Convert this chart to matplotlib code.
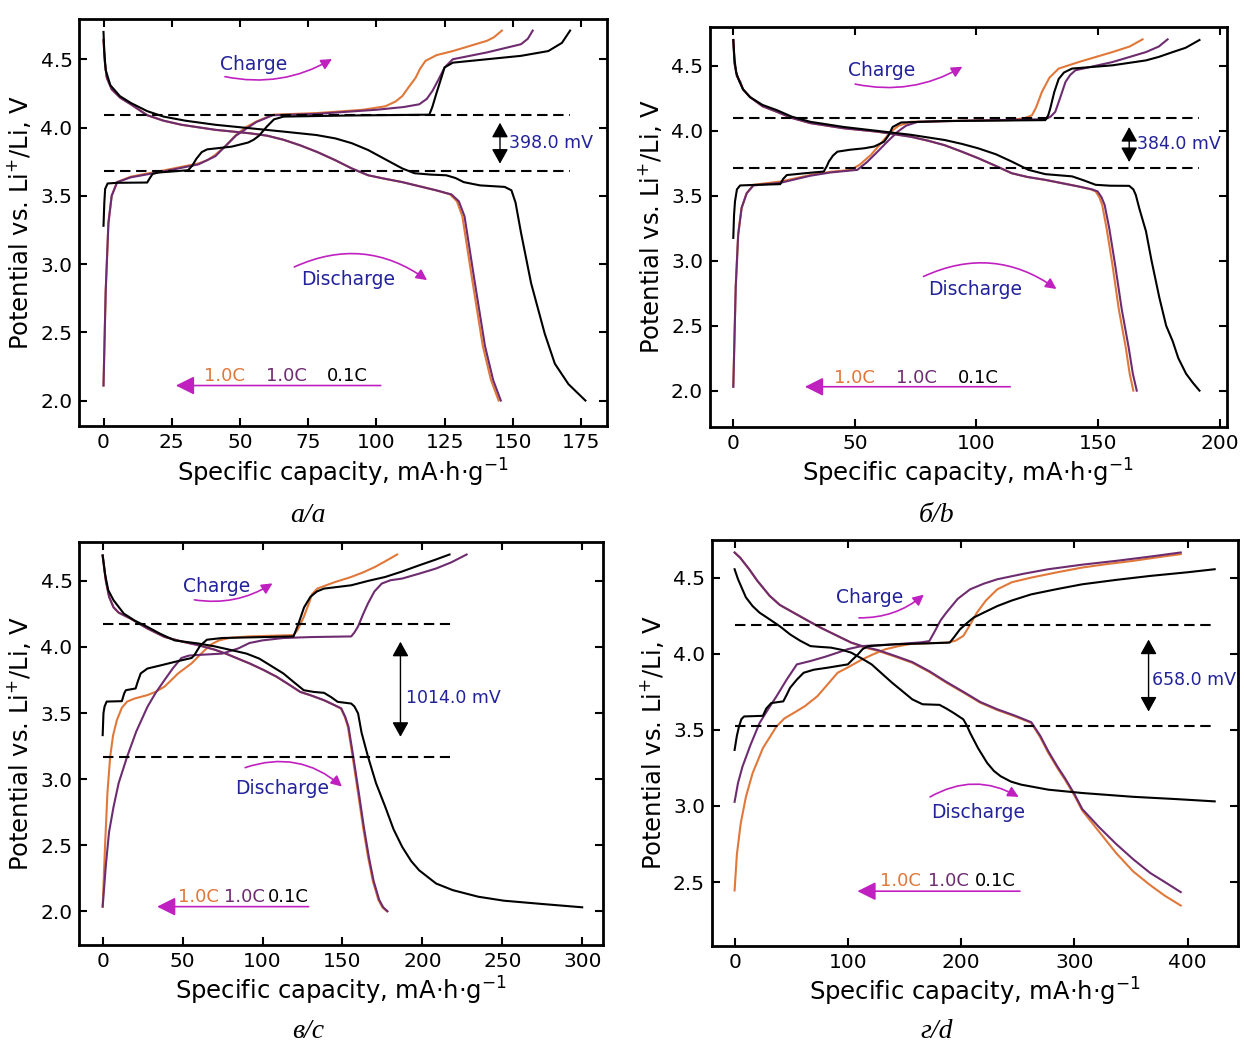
import matplotlib.pyplot as plt

# colours of the three curves
ORANGE = '#e0783a'
PURPLE = '#6e2c70'
BLACK = 'k'
MAGENTA = '#c020c0'
BLUE = '#22229a'

# ---------------- panel a ----------------
a_dis_k_x = [0, 0.3, 0.8, 2.5, 6, 10, 16, 22, 30, 41, 53.5, 66, 78, 85, 91, 97, 103, 109.5, 114, 120, 125.6, 129, 132, 138, 147, 149.5, 151, 153, 156.7, 161.7, 165.4, 170.4, 176.6]
a_dis_k_y = [4.70, 4.55, 4.42, 4.31, 4.23, 4.18, 4.12, 4.08, 4.05, 4.02, 3.995, 3.97, 3.945, 3.92, 3.885, 3.835, 3.77, 3.70, 3.665, 3.655, 3.65, 3.63, 3.60, 3.576, 3.565, 3.54, 3.45, 3.23, 2.86, 2.49, 2.27, 2.12, 2.0]
a_dis_o_x = [0, 0.5, 1.2, 3, 6.2, 10, 16, 22, 28.6, 41, 53.5, 60, 66, 72, 78.4, 85, 91, 97, 103, 109.5, 121.9, 127, 129.5, 131.5, 135, 139, 142, 144.8]
a_dis_o_y = [4.64, 4.48, 4.365, 4.28, 4.217, 4.17, 4.09, 4.05, 4.02, 3.983, 3.958, 3.94, 3.91, 3.87, 3.82, 3.76, 3.70, 3.65, 3.625, 3.60, 3.54, 3.51, 3.46, 3.35, 2.90, 2.40, 2.15, 2.0]
a_dis_p_x = [0, 0.5, 1.2, 3, 6.2, 10, 16, 22, 28.6, 41, 53.5, 60, 66, 72, 78.4, 85, 91, 97, 103, 109.5, 121.9, 127.5, 130.2, 132.3, 135.8, 139.8, 142.8, 145.6]
a_dis_p_y = [4.64, 4.48, 4.365, 4.28, 4.217, 4.17, 4.09, 4.05, 4.02, 3.983, 3.958, 3.94, 3.91, 3.87, 3.82, 3.76, 3.70, 3.65, 3.625, 3.60, 3.54, 3.51, 3.46, 3.35, 2.90, 2.40, 2.15, 2.0]
a_ch_k_x = [0, 0.3, 0.6, 1.5, 5, 16, 17, 18, 20, 31, 32.5, 34, 36, 38, 47, 53, 55, 57, 60, 62.5, 66, 90, 119.4, 120.5, 122, 125, 128, 140.5, 153, 163, 168, 171]
a_ch_k_y = [3.28, 3.45, 3.55, 3.59, 3.595, 3.597, 3.63, 3.66, 3.67, 3.687, 3.72, 3.77, 3.82, 3.84, 3.86, 3.89, 3.91, 3.94, 4.01, 4.06, 4.08, 4.088, 4.094, 4.15, 4.25, 4.44, 4.475, 4.5, 4.525, 4.56, 4.62, 4.71]
a_ch_o_x = [0, 0.8, 1.8, 3, 5, 10, 22.4, 34.8, 38, 41, 45, 48.5, 52, 56, 62.2, 78.4, 95, 103.2, 107, 109.5, 112, 114.4, 116, 118, 122, 128, 140.5, 143, 146]
a_ch_o_y = [2.11, 2.8, 3.3, 3.5, 3.60, 3.64, 3.687, 3.737, 3.76, 3.80, 3.87, 3.945, 4.0, 4.044, 4.094, 4.106, 4.13, 4.155, 4.19, 4.23, 4.30, 4.365, 4.43, 4.488, 4.53, 4.56, 4.635, 4.66, 4.71]
a_ch_p_x = [0, 0.8, 1.8, 3, 5, 10, 22.4, 34.8, 41, 48.5, 56, 62, 78, 100, 110, 115.7, 118.5, 120.6, 123, 125, 128, 140.5, 153, 155.5, 157.3]
a_ch_p_y = [2.11, 2.8, 3.3, 3.5, 3.60, 3.635, 3.68, 3.73, 3.79, 3.94, 4.04, 4.09, 4.10, 4.13, 4.15, 4.17, 4.21, 4.27, 4.36, 4.44, 4.5, 4.55, 4.61, 4.65, 4.71]

# ---------------- panel b ----------------
b_dis_k_x = [0, 0.5, 1.2, 2.5, 4, 6.9, 12, 17.9, 24, 31.7, 45.5, 59.3, 73, 86.9, 94, 100.7, 108, 114.5, 121.4, 128.3, 139.3, 144, 149, 155, 162.8, 164.5, 165.5, 167, 169.7, 172, 175.2, 178, 180.7, 183, 186.2, 189, 191.7]
b_dis_k_y = [4.70, 4.55, 4.45, 4.38, 4.32, 4.26, 4.20, 4.16, 4.11, 4.07, 4.03, 4.0, 3.97, 3.93, 3.90, 3.866, 3.82, 3.764, 3.70, 3.667, 3.65, 3.62, 3.585, 3.578, 3.577, 3.55, 3.508, 3.40, 3.227, 3.0, 2.716, 2.50, 2.38, 2.25, 2.13, 2.06, 2.0]
b_dis_o_x = [0, 0.5, 1.5, 2.8, 4, 6.9, 12, 17.9, 24, 31.7, 45.5, 59.3, 73, 80, 86.9, 94, 100.7, 108, 114.5, 121, 128.3, 142, 147, 149, 150.5, 151.7, 153.5, 155.9, 158.5, 161.4, 163, 164.5]
b_dis_o_y = [4.70, 4.52, 4.42, 4.38, 4.32, 4.26, 4.19, 4.147, 4.10, 4.06, 4.02, 3.994, 3.955, 3.925, 3.89, 3.84, 3.79, 3.73, 3.674, 3.645, 3.623, 3.572, 3.55, 3.534, 3.49, 3.43, 3.25, 2.97, 2.63, 2.33, 2.13, 2.0]
b_dis_p_x = [0, 0.5, 1.5, 2.8, 4, 6.9, 12, 17.9, 24, 31.7, 45.5, 59.3, 73, 80, 86.9, 94, 100.7, 108, 114.5, 121, 128.3, 142, 147.5, 149.8, 151.4, 152.7, 154.6, 157, 159.7, 162.6, 164.3, 165.9]
b_dis_p_y = b_dis_o_y
b_ch_k_x = [0, 0.3, 0.7, 1.5, 2.8, 10, 19.3, 20.5, 22, 30, 37.2, 38.5, 39.3, 41, 42.8, 48, 53.8, 58, 62, 64, 65.5, 69, 87, 128.3, 129.5, 130.3, 132, 133.8, 136, 139.3, 155.9, 169.7, 175, 180.7, 186, 191.7]
b_ch_k_y = [3.176, 3.35, 3.457, 3.55, 3.58, 3.585, 3.59, 3.63, 3.66, 3.675, 3.687, 3.73, 3.764, 3.81, 3.84, 3.855, 3.866, 3.88, 3.917, 3.97, 4.03, 4.065, 4.076, 4.083, 4.12, 4.17, 4.30, 4.40, 4.45, 4.48, 4.505, 4.543, 4.57, 4.607, 4.64, 4.70]
b_ch_o_x = [0, 1, 2, 3.4, 5.5, 8.3, 19.3, 31.7, 40, 48.3, 52, 56.6, 60.5, 64.8, 68, 73, 100, 114.5, 120, 122.8, 124.5, 126.9, 130, 133.8, 142, 155.9, 163, 168.3]
b_ch_o_y = [2.03, 2.8, 3.2, 3.406, 3.52, 3.585, 3.61, 3.66, 3.685, 3.70, 3.74, 3.815, 3.90, 3.994, 4.04, 4.07, 4.08, 4.083, 4.10, 4.12, 4.18, 4.30, 4.41, 4.48, 4.53, 4.607, 4.65, 4.705]
b_ch_p_x = [0, 1, 2, 3.4, 5.5, 8.3, 19.3, 31.7, 40, 51, 55, 59.3, 63.5, 67.6, 71, 75.9, 100, 128.3, 130.5, 132.4, 134.5, 136.6, 138.5, 140.7, 155.9, 169.7, 175, 178.6]
b_ch_p_y = [2.03, 2.8, 3.2, 3.406, 3.52, 3.58, 3.60, 3.655, 3.68, 3.70, 3.76, 3.84, 3.92, 3.994, 4.04, 4.07, 4.08, 4.09, 4.11, 4.147, 4.26, 4.377, 4.43, 4.467, 4.53, 4.607, 4.65, 4.705]

# ---------------- panel c ----------------
c_dis_k_x = [0, 1.5, 3.5, 6.8, 13.2, 20, 28, 36, 45, 60, 70, 81, 90, 98, 105, 113, 120, 125.8, 132, 138.5, 143, 147, 155.5, 157.5, 159.8, 162, 166, 171, 176.8, 182, 187.4, 193, 198, 208.6, 219, 235, 251, 275, 300]
c_dis_k_y = [4.694, 4.55, 4.43, 4.354, 4.253, 4.20, 4.152, 4.10, 4.05, 4.026, 4.005, 3.975, 3.95, 3.912, 3.86, 3.80, 3.73, 3.673, 3.66, 3.653, 3.62, 3.585, 3.572, 3.55, 3.497, 3.35, 3.17, 2.97, 2.79, 2.62, 2.487, 2.38, 2.31, 2.21, 2.16, 2.11, 2.08, 2.055, 2.03]
c_dis_o_x = [0, 2, 4, 6.8, 10, 17.4, 28, 38.7, 50, 60, 70, 77, 85, 91.8, 100, 108.8, 116, 123.6, 130, 138.5, 145, 149, 151.5, 153.4, 156, 159.8, 163, 166, 169, 172.5, 175, 177.8]
c_dis_o_y = [4.69, 4.50, 4.38, 4.30, 4.26, 4.215, 4.14, 4.076, 4.04, 4.013, 3.98, 3.95, 3.91, 3.876, 3.83, 3.775, 3.72, 3.66, 3.635, 3.597, 3.56, 3.535, 3.47, 3.396, 3.20, 2.892, 2.63, 2.413, 2.23, 2.086, 2.03, 2.0]
c_dis_p_x = [0, 2, 4, 6.8, 10, 17.4, 28, 38.7, 50, 60, 70, 77, 85, 91.8, 100, 108.8, 116, 123.6, 130, 138.5, 145, 149.3, 151.8, 153.8, 156.4, 160.3, 163.5, 166.5, 169.5, 173, 175.5, 178.2]
c_dis_p_y = c_dis_o_y
c_ch_k_x = [0, 0.5, 1.2, 2.5, 12, 13.5, 14.5, 20.6, 22, 23.8, 28, 36, 45, 55.7, 57.5, 58.8, 61, 65.2, 74.8, 100, 119.4, 121, 122.6, 126, 130, 134, 138.5, 155.5, 166, 176.8, 187, 198, 208, 217]
c_ch_k_y = [3.333, 3.50, 3.55, 3.587, 3.59, 3.65, 3.673, 3.686, 3.74, 3.80, 3.837, 3.86, 3.887, 3.917, 3.94, 3.967, 4.01, 4.055, 4.068, 4.075, 4.08, 4.13, 4.18, 4.30, 4.38, 4.42, 4.442, 4.467, 4.50, 4.53, 4.57, 4.618, 4.66, 4.70]
c_ch_o_x = [0, 1.5, 3, 4.7, 6.5, 8.9, 12, 15.3, 20, 28, 33, 38.7, 43, 47.2, 55.7, 60, 64.2, 68, 72.7, 80, 91.8, 119.4, 122, 125.8, 129, 131, 134.3, 145, 155.5, 163, 170.4, 177, 184.2]
c_ch_o_y = [2.035, 2.5, 2.9, 3.17, 3.33, 3.447, 3.54, 3.587, 3.61, 3.636, 3.66, 3.70, 3.75, 3.80, 3.877, 3.93, 3.98, 4.02, 4.05, 4.07, 4.08, 4.09, 4.13, 4.227, 4.33, 4.40, 4.442, 4.49, 4.53, 4.565, 4.606, 4.65, 4.70]
c_ch_p_x = [0, 2, 4, 6.8, 10, 15.3, 21, 28, 33, 38.7, 44, 49.3, 54, 60, 74.8, 85, 91.8, 100, 113, 130, 155.5, 157.5, 159.8, 163, 166, 170, 174.6, 180, 187.4, 198, 208.6, 218, 227.7]
c_ch_p_y = [2.035, 2.35, 2.6, 2.79, 2.97, 3.17, 3.36, 3.547, 3.65, 3.75, 3.84, 3.917, 3.935, 3.94, 3.95, 3.99, 4.03, 4.05, 4.068, 4.075, 4.08, 4.11, 4.156, 4.25, 4.33, 4.42, 4.48, 4.505, 4.518, 4.555, 4.594, 4.64, 4.70]

# ---------------- panel d ----------------
d_dis_k_x = [0, 3, 6.9, 10, 15.9, 22, 30.9, 40, 49, 58, 67, 75, 85, 95, 103, 112, 121, 130, 139, 148, 157, 166, 181, 187, 193, 202, 205, 208, 215, 223, 229, 235, 244, 253, 277, 307, 352, 390, 424]
d_dis_k_y = [4.555, 4.49, 4.423, 4.37, 4.313, 4.27, 4.226, 4.18, 4.127, 4.085, 4.05, 4.045, 4.04, 4.025, 4.007, 3.97, 3.93, 3.87, 3.81, 3.755, 3.70, 3.668, 3.664, 3.64, 3.613, 3.569, 3.53, 3.48, 3.38, 3.283, 3.23, 3.195, 3.16, 3.14, 3.107, 3.085, 3.06, 3.045, 3.03]
d_dis_o_x = [0, 5, 12.9, 20, 31, 40, 52, 64, 76, 90, 103, 115, 127, 142, 157, 172, 187, 202, 217, 232, 247, 262, 270, 277, 285, 292, 300, 307, 322, 337, 352, 367, 380, 394]
d_dis_o_y = [4.665, 4.63, 4.555, 4.48, 4.38, 4.32, 4.27, 4.22, 4.171, 4.12, 4.073, 4.04, 4.018, 3.98, 3.94, 3.88, 3.81, 3.745, 3.678, 3.63, 3.59, 3.546, 3.45, 3.349, 3.25, 3.17, 3.07, 2.97, 2.83, 2.69, 2.57, 2.48, 2.41, 2.346]
d_dis_p_x = [0, 5, 12.9, 20, 31, 40, 52, 64, 76, 90, 103, 115, 127, 142, 157, 172, 187, 202, 217, 232, 247, 262, 270, 277, 285, 292, 300, 307, 322, 337, 352, 367, 380, 394]
d_dis_p_y = [4.665, 4.63, 4.555, 4.48, 4.38, 4.32, 4.27, 4.22, 4.171, 4.12, 4.073, 4.045, 4.023, 3.985, 3.945, 3.885, 3.815, 3.75, 3.683, 3.635, 3.595, 3.55, 3.46, 3.36, 3.26, 3.18, 3.08, 2.98, 2.86, 2.75, 2.65, 2.56, 2.50, 2.434]
d_ch_k_x = [0, 2, 3.9, 6, 8.4, 25, 28, 32.4, 43, 46, 49, 55, 61, 70, 82, 100, 104, 109, 113, 118, 142, 170, 190, 194, 199, 205, 211, 220, 232, 245, 262, 285, 307, 337, 367, 400, 424]
d_ch_k_y = [3.368, 3.46, 3.522, 3.57, 3.588, 3.592, 3.64, 3.676, 3.687, 3.73, 3.776, 3.83, 3.875, 3.895, 3.908, 3.93, 3.96, 3.996, 4.03, 4.05, 4.062, 4.068, 4.073, 4.11, 4.16, 4.20, 4.237, 4.27, 4.313, 4.35, 4.39, 4.425, 4.456, 4.485, 4.511, 4.535, 4.555]
d_ch_p_x = [0, 3, 6.9, 14, 22, 30, 37, 46, 55, 67, 80, 91, 100, 112, 142, 165, 172, 177, 182, 187, 197, 208, 220, 232, 255, 277, 307, 337, 367, 394]
d_ch_p_y = [3.027, 3.15, 3.257, 3.40, 3.544, 3.64, 3.72, 3.83, 3.93, 3.952, 3.98, 4.007, 4.03, 4.05, 4.062, 4.075, 4.083, 4.15, 4.22, 4.27, 4.36, 4.423, 4.46, 4.489, 4.525, 4.555, 4.585, 4.61, 4.638, 4.665]
d_ch_o_x = [0, 2, 5.4, 10, 15.9, 25, 37, 44, 52, 62, 73, 80, 91, 100, 112, 122, 133, 145, 157, 187, 195, 202, 208, 214, 222, 232, 245, 262, 285, 307, 330, 352, 375, 394]
d_ch_o_y = [2.445, 2.68, 2.885, 3.06, 3.215, 3.38, 3.522, 3.575, 3.61, 3.655, 3.72, 3.78, 3.875, 3.91, 3.96, 3.995, 4.029, 4.05, 4.066, 4.073, 4.085, 4.117, 4.19, 4.27, 4.35, 4.423, 4.47, 4.5, 4.535, 4.566, 4.59, 4.61, 4.635, 4.654]

rate_labels = ['1.0C', '1.0C', '0.1C']

plt.rcParams['font.family'] = 'DejaVu Sans'
fig = plt.figure(figsize=(12.44, 10.43), dpi=100)

ax_a = fig.add_axes([0.0639, 0.5911, 0.4240, 0.3907])
ax_b = fig.add_axes([0.5707, 0.5906, 0.4156, 0.3835])
ax_c = fig.add_axes([0.0639, 0.0940, 0.4208, 0.3864])
ax_d = fig.add_axes([0.5723, 0.0930, 0.4228, 0.3897])


def curves(ax, ch_o, ch_p, ch_k, dis_o, dis_p, dis_k):
    for (x, y), c in [(ch_o, ORANGE), (dis_o, ORANGE), (ch_p, PURPLE), (dis_p, PURPLE),
                      (ch_k, BLACK), (dis_k, BLACK)]:
        ax.plot(x, y, color=c, lw=1.5)


def decorate(ax, xmax_dash, v_hi, v_lo, dbl_x, dbl_y, gap_txt, txt_x, txt_y,
             ch_txt, ch_a, ch_b, dis_txt, dis_a, dis_b, leg_x, leg_y, arr_y, arr_a, arr_b, fs_leg=13):
    ax.plot([0, xmax_dash], [v_hi, v_hi], 'k--', lw=1.5, dashes=(5, 2.7))
    ax.plot([0, xmax_dash], [v_lo, v_lo], 'k--', lw=1.5, dashes=(5, 2.7))
    ax.annotate('', xy=(dbl_x, dbl_y[0]), xytext=(dbl_x, dbl_y[1]),
                arrowprops=dict(arrowstyle='<|-|>,head_length=0.45,head_width=0.25',
                                color='k', lw=1.0, mutation_scale=20, shrinkA=0, shrinkB=0))
    ax.text(txt_x, txt_y, gap_txt, color=BLUE, fontsize=12.5, va='center', ha='left')
    ax.text(ch_txt[0], ch_txt[1], 'Charge', color=BLUE, fontsize=13.5, ha='center', va='center')
    ax.annotate('', xy=ch_b, xytext=ch_a,
                arrowprops=dict(arrowstyle='-|>', color=MAGENTA, lw=1.2, mutation_scale=16,
                                connectionstyle='arc3,rad=0.2'))
    ax.text(dis_txt[0], dis_txt[1], 'Discharge', color=BLUE, fontsize=13.5, ha='center', va='center')
    ax.annotate('', xy=dis_b, xytext=dis_a,
                arrowprops=dict(arrowstyle='-|>', color=MAGENTA, lw=1.2, mutation_scale=16,
                                connectionstyle='arc3,rad=-0.3'))
    for x, lab, c in zip(leg_x, rate_labels, [ORANGE, PURPLE, BLACK]):
        ax.text(x, leg_y, lab, color=c, fontsize=fs_leg, ha='left', va='center')
    ax.annotate('', xy=(arr_b, arr_y), xytext=(arr_a, arr_y),
                arrowprops=dict(arrowstyle='-|>', color=MAGENTA, lw=1.2, mutation_scale=28))


def style(ax, xticks, yticks, xlim, ylim):
    ax.set_xticks(xticks)
    ax.set_yticks(yticks)
    ax.set_xticklabels([str(t) for t in xticks])
    ax.set_yticklabels(['%.1f' % t for t in yticks])
    ax.set_xlim(*xlim)
    ax.set_ylim(*ylim)
    ax.tick_params(direction='in', top=True, right=True, length=6, width=1.5,
                   labelsize=14.5, pad=5)
    for s in ax.spines.values():
        s.set_linewidth(2)
    ax.set_xlabel('Specific capacity, mA$\\cdot$h$\\cdot$g$^{-1}$', fontsize=17.5, labelpad=3)
    ax.set_ylabel('Potential vs. Li$^{+}$/Li, V', fontsize=17.5, labelpad=5)


curves(ax_a, (a_ch_o_x, a_ch_o_y), (a_ch_p_x, a_ch_p_y), (a_ch_k_x, a_ch_k_y),
       (a_dis_o_x, a_dis_o_y), (a_dis_p_x, a_dis_p_y), (a_dis_k_x, a_dis_k_y))
decorate(ax_a, 171, 4.09, 3.685, 145.3, (4.035, 3.735), '398.0 mV', 148.5, 3.884,
         (55, 4.46), (43.5, 4.377), (84.6, 4.512), (89.6, 2.887), (69, 2.97), (119.4, 2.87),
         [36.7, 59.5, 82], 2.18, 2.11, 102.6, 25.5)
style(ax_a, [0, 25, 50, 75, 100, 125, 150, 175], [2.0, 2.5, 3.0, 3.5, 4.0, 4.5],
      (-8.8, 184.5), (1.81, 4.795))

curves(ax_b, (b_ch_o_x, b_ch_o_y), (b_ch_p_x, b_ch_p_y), (b_ch_k_x, b_ch_k_y),
       (b_dis_o_x, b_dis_o_y), (b_dis_p_x, b_dis_p_y), (b_dis_k_x, b_dis_k_y))
decorate(ax_b, 191.7, 4.096, 3.713, 162.8, (4.03, 3.76), '384.0 mV', 166.0, 3.90,
         (61, 4.467), (49, 4.365), (95.2, 4.505), (99.3, 2.78), (77.2, 2.87), (133.8, 2.77),
         [41.4, 66.9, 92.4], 2.10, 2.03, 115, 28.3)
style(ax_b, [0, 50, 100, 150, 200], [2.0, 2.5, 3.0, 3.5, 4.0, 4.5],
      (-9.6, 203), (1.72, 4.80))

curves(ax_c, (c_ch_o_x, c_ch_o_y), (c_ch_p_x, c_ch_p_y), (c_ch_k_x, c_ch_k_y),
       (c_dis_o_x, c_dis_o_y), (c_dis_p_x, c_dis_p_y), (c_dis_k_x, c_dis_k_y))
decorate(ax_c, 217, 4.177, 3.164, 186.3, (4.04, 3.32), '1014.0 mV', 189.5, 3.615,
         (71, 4.46), (55.7, 4.36), (107.7, 4.493), (112, 2.93), (87.5, 3.08), (151, 2.93),
         [47.2, 75.8, 103.5], 2.105, 2.035, 130.6, 32.3)
style(ax_c, [0, 50, 100, 150, 200, 250, 300], [2.0, 2.5, 3.0, 3.5, 4.0, 4.5],
      (-14.5, 313), (1.745, 4.795))

curves(ax_d, (d_ch_o_x, d_ch_o_y), (d_ch_p_x, d_ch_p_y), (d_ch_k_x, d_ch_k_y),
       (d_dis_o_x, d_dis_o_y), (d_dis_p_x, d_dis_p_y), (d_dis_k_x, d_dis_k_y))
decorate(ax_d, 424, 4.186, 3.526, 365.6, (4.093, 3.62), '658.0 mV', 369, 3.83,
         (119.5, 4.368), (107.4, 4.236), (169, 4.40), (215.5, 2.96), (170.5, 3.05), (253, 3.05),
         [128.4, 170.4, 212.5], 2.51, 2.44, 254.5, 106)
style(ax_d, [0, 100, 200, 300, 400], [2.5, 3.0, 3.5, 4.0, 4.5],
      (-20, 444.5), (2.08, 4.75))

cap = dict(fontsize=20, family='Liberation Serif', style='italic', ha='center', va='center')
fig.text(0.2476, 0.5062, 'а/a', **cap)
fig.text(0.7530, 0.5062, 'б/b', **cap)
fig.text(0.2476, 0.0110, 'в/c', **cap)
fig.text(0.7530, 0.0110, 'г/d', **cap)

fig.savefig('out.png', dpi=100)
